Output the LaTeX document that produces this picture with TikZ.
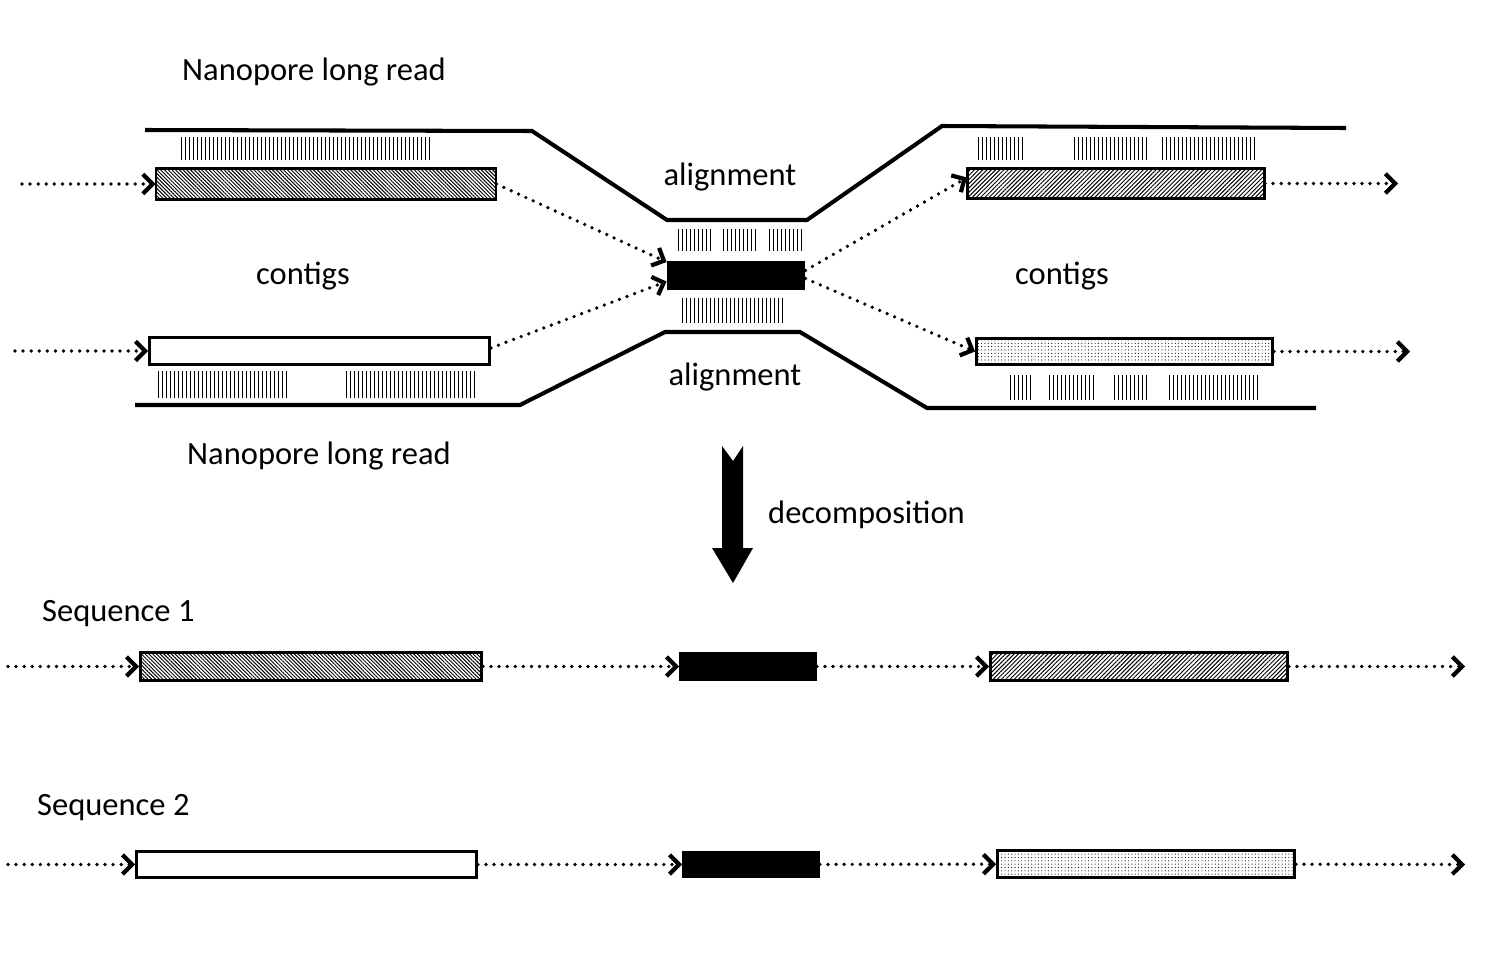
\documentclass[tikz,border=0pt]{standalone}
\usepackage{fontspec}
\setmainfont{Carlito}
\usetikzlibrary{arrows.meta,patterns.meta}

\tikzset{
  longread/.style={line width=2.3pt, line join=miter},
  contig/.style={draw, line width=1.6pt, inner sep=0pt},
  fwdhatch/.style={pattern={Lines[angle=-45,distance=1.5pt,line width=0.55pt]}},
  revhatch/.style={pattern={Lines[angle=45,distance=1.7pt,line width=0.55pt]}},
  dotted fill/.style={pattern={Dots[distance=1.9pt,radius=0.32pt]}},
  core/.style={fill=black},
  hit/.style={line width=0.7pt},
  link/.style={line width=2.1pt, dash pattern=on 0pt off 4.6pt, line cap=round,
    -{Straight Barb[length=5.5pt,width=11pt,line width=2.4pt]}},
}

\begin{document}
\begin{tikzpicture}[x=0.2mm, y=-0.2mm, font=\fontsize{18.5}{22}\selectfont]
  \useasboundingbox (0,0) rectangle (1491,971);

  % long reads
  \draw[longread] (145,130) -- (532,131) -- (667,220) -- (807,220) -- (942,126) -- (1346,128);
  \draw[longread] (135,405) -- (520,405) -- (665,332) -- (800,332) -- (927,408) -- (1316,408);

  % aligned stretches
  \foreach \xa/\xb/\ya/\yb in {181/430/137/160, 678/710/229/251, 723/755/229/251,
      769/802/229/251, 682/782/298/323, 158/287/371/398, 346/475/371/398,
      978/1022/137/160, 1074/1146/137/160, 1162/1254/137/160,
      1010/1030/375/400, 1049/1095/375/400, 1114/1147/375/400, 1169/1258/375/400}
  {
    \pgfmathtruncatemacro\nticks{(\xb-\xa)/4}
    \foreach \k in {0,...,\nticks}
      \draw[hit] ({\xa+0.5+4*\k},\ya) -- ({\xa+0.5+4*\k},\yb);
  }

  % big arrow
  \fill (722,446) -- (733,461) -- (743,446) -- (743,548) -- (753,548)
        -- (733,583) -- (712,548) -- (722,548) -- cycle;

  \begin{scope}[every node/.style={contig}]
    \node[fwdhatch, minimum width=68mm, minimum height=6.1mm] (ctgA) at (326,184) {};
    \node[minimum width=68mm, minimum height=5.3mm] (ctgB) at (319.5,351) {};
    \node[core, minimum width=27.2mm, minimum height=5.4mm] (ctr) at (736,275.5) {};
    \node[revhatch, minimum width=59.4mm, minimum height=6mm] (ctgC) at (1116,183.5) {};
    \node[dotted fill, minimum width=59.2mm, minimum height=5.3mm] (ctgD) at (1124.5,351.5) {};

    \node[fwdhatch, minimum width=68.2mm, minimum height=5.6mm] (s1a) at (311,666.5) {};
    \node[core, minimum width=27mm, minimum height=5.3mm] (s1b) at (748,666.5) {};
    \node[revhatch, minimum width=59.4mm, minimum height=5.6mm] (s1c) at (1139,666.5) {};

    \node[minimum width=68mm, minimum height=5.2mm] (s2a) at (306.5,864.5) {};
    \node[core, minimum width=27mm, minimum height=4.9mm] (s2b) at (751,864.5) {};
    \node[dotted fill, minimum width=59.4mm, minimum height=5.4mm] (s2c) at (1146,864) {};
  \end{scope}

  \node (readtop) at (314,72) {Nanopore long read};
  \node (readbot) at (319,456) {Nanopore long read};
  \node (alntop) at (730,177) {alignment};
  \node (alnbot) at (735,377) {alignment};
  \node (ctgleft) at (303,276) {contigs};
  \node (ctgright) at (1062,276) {contigs};
  \node[anchor=west] (decomp) at (762,515) {decomposition};
  \node[anchor=west] (seq1) at (36,614) {Sequence 1};
  \node[anchor=west] (seq2) at (31,808) {Sequence 2};

  \coordinate (inA) at (22,184);
  \coordinate (inB) at (15,351);
  \coordinate (outC) at (1398,183.5);
  \coordinate (outD) at (1410,351.5);
  \coordinate (in1) at (8,666.5);
  \coordinate (out1) at (1465,666.5);
  \coordinate (in2) at (8,864.5);
  \coordinate (out2) at (1465,864.5);

  \begin{scope}[every edge/.style={draw, link}]
    \path (inA) edge (ctgA);
    \path (inB) edge (ctgB);
    \path (ctgA.east) edge ([yshift=2.7mm]ctr.west);
    \path ([yshift=0.6mm]ctgB.east) edge ([yshift=-1.2mm]ctr.west);
    \path ([yshift=1mm]ctr.east) edge ([yshift=1.2mm]ctgC.west);
    \path ([yshift=-0.6mm]ctr.east) edge (ctgD.west);
    \path (ctgC) edge (outC);
    \path (ctgD) edge (outD);

    \path (in1) edge (s1a);
    \path (s1a) edge (s1b);
    \path (s1b) edge (s1c);
    \path (s1c) edge (out1);

    \path (in2) edge (s2a);
    \path (s2a) edge (s2b);
    \path (s2b) edge (s2c);
    \path (s2c) edge (out2);
  \end{scope}

\end{tikzpicture}
\end{document}
